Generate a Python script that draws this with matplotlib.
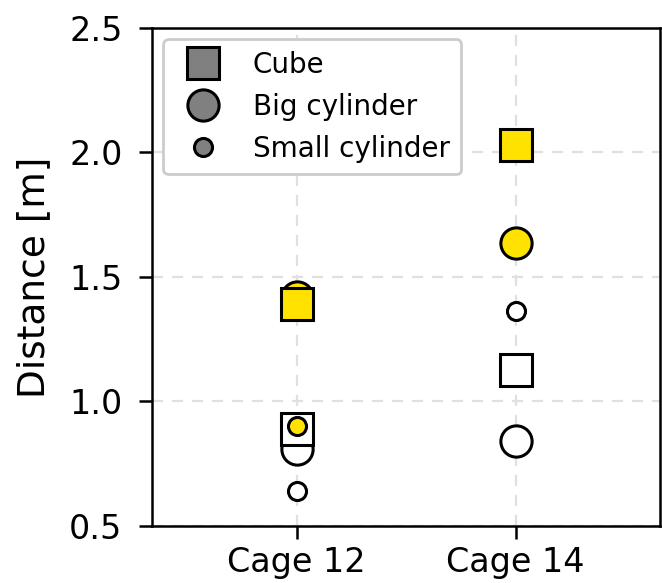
import numpy as np
import matplotlib
matplotlib.use("Agg")
import matplotlib.pyplot as plt
from matplotlib.lines import Line2D

cages = ["Cage 12", "Cage 14"]
# yellow = first condition, white = second condition
cube_yellow = [1.39, 2.03]
cube_white = [0.89, 1.125]
big_yellow = [1.42, 1.635]
big_white = [0.81, 0.84]
small_yellow = [0.90, np.nan]
small_white = [0.64, 1.365]

yellow = "#FFE200"
x = np.arange(len(cages))

fig = plt.figure(figsize=(6.62, 5.83), dpi=100)
ax = fig.add_axes([0.23, 0.098, 0.767, 0.854])

ew = 2.2
# draw order: big cylinder, cube, small cylinder
for vals, col in [(big_white, "white"), (big_yellow, yellow)]:
    ax.plot(x, vals, ls="none", marker="o", ms=22.5, mfc=col, mec="black", mew=ew, zorder=3)
for vals, col in [(cube_white, "white"), (cube_yellow, yellow)]:
    ax.plot(x, vals, ls="none", marker="s", ms=22.5, mfc=col, mec="black", mew=ew, zorder=4)
for vals, col in [(small_white, "white"), (small_yellow, yellow)]:
    ax.plot(x, vals, ls="none", marker="o", ms=13, mfc=col, mec="black", mew=ew, zorder=5)

ax.set_xlim(-0.66, 1.66)
ax.set_ylim(0.5, 2.5)
ax.set_xticks(x)
ax.set_xticklabels(cages)
ax.set_yticks([0.5, 1.0, 1.5, 2.0, 2.5])
ax.tick_params(labelsize=24, width=1.8, length=9.5)
ax.tick_params(axis="y", pad=12)
ax.tick_params(axis="x", pad=5)
ax.set_ylabel("Distance [m]", fontsize=27, labelpad=12)
ax.grid(True, ls="--", color="#e0e0e0", lw=1.6, dashes=(5, 4))
ax.set_axisbelow(True)
for s in ax.spines.values():
    s.set_linewidth(1.8)

handles = [
    Line2D([], [], ls="none", marker="s", ms=22.5, mfc="#808080", mec="black", mew=ew),
    Line2D([], [], ls="none", marker="o", ms=22.5, mfc="#808080", mec="black", mew=ew),
    Line2D([], [], ls="none", marker="o", ms=13, mfc="#808080", mec="black", mew=ew),
]
leg = ax.legend(handles, ["Cube", "Big cylinder", "Small cylinder"], loc="upper left",
                fontsize=20, frameon=True, fancybox=True, edgecolor="#cccccc",
                framealpha=1, labelspacing=0.5, handletextpad=0.8, borderpad=0.42,
                borderaxespad=0.4)
leg.get_frame().set_linewidth(2)

fig.savefig("out.png", dpi=100)
